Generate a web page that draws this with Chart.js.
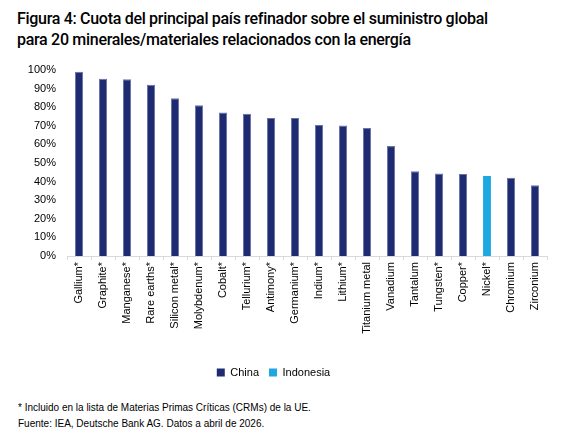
<!DOCTYPE html>
<html>
<head>
<meta charset="utf-8">
<script src="https://cdn.jsdelivr.net/npm/chart.js@4.4.1/dist/chart.umd.min.js"></script>
<style>
  body { margin: 0; background: #fff; width: 569px; height: 440px; overflow: hidden; font-family: "Noto Sans", sans-serif; }
  #title { position: absolute; left: 17px; top: 8px; font-family: Roboto, "Noto Sans", sans-serif; font-size: 16px; line-height: 21px; color: #000; font-weight: 500; white-space: nowrap; letter-spacing: -0.3px; }
  #wrap { position: absolute; left: 0; top: 0; width: 569px; height: 392px; }
  .note { position: absolute; left: 18px; font-size: 10px; color: #000; font-family: "Liberation Sans", sans-serif; }
</style>
</head>
<body>
<div id="title">Figura 4: Cuota del principal país refinador sobre el suministro global<br>para 20 minerales/materiales relacionados con la energía</div>
<div id="wrap"><canvas id="chart"></canvas></div>
<div class="note" style="top:402px">* Incluido en la lista de Materias Primas Críticas (CRMs) de la UE.</div>
<div class="note" style="top:418px">Fuente: IEA, Deutsche Bank AG. Datos a abril de 2026.</div>
<script>
// Data
var minerals = ['Gallium*', 'Graphite*', 'Manganese*', 'Rare earths*', 'Silicon metal*', 'Molybdenum*',
  'Cobalt*', 'Tellurium*', 'Antimony*', 'Germanium*', 'Indium*', 'Lithium*', 'Titanium metal',
  'Vanadium', 'Tantalum', 'Tungsten*', 'Copper*', 'Nickel*', 'Chromium', 'Zirconium'];
var share = [99, 95.3, 95, 92.1, 84.8, 81, 77.2, 76.5, 74.2, 74.2, 70.4, 70.2, 68.8, 59.1, 45.5, 44.4, 44.1, 43, 42.1, 38];
var country = ['China', 'China', 'China', 'China', 'China', 'China', 'China', 'China', 'China', 'China',
  'China', 'China', 'China', 'China', 'China', 'China', 'China', 'Indonesia', 'China', 'China'];
var yTicks = [0, 10, 20, 30, 40, 50, 60, 70, 80, 90, 100];

var colors = { 'China': '#1f2b70', 'Indonesia': '#1ea8e0' };
var borders = { 'China': '#6a73a6', 'Indonesia': '#1ea8e0' };

var ctx = document.getElementById('chart');
var chart = new Chart(ctx, {
  type: 'bar',
  data: {
    labels: minerals,
    datasets: [{
      label: 'Share',
      data: share,
      backgroundColor: country.map(function (c) { return colors[c]; }),
      borderColor: country.map(function (c) { return borders[c]; }),
      borderWidth: 1,
      categoryPercentage: 1,
      barPercentage: 0.34
    }]
  },
  options: {
    responsive: true,
    maintainAspectRatio: false,
    animation: false,
    layout: { padding: { top: 70, right: 22, left: 0, bottom: 4 } },
    plugins: {
      tooltip: { enabled: false },
      legend: {
        position: 'bottom',
        labels: {
          boxWidth: 8, boxHeight: 8, padding: 10, color: '#000',
          font: { family: 'Liberation Sans', size: 11 },
          generateLabels: function () {
            return ['China', 'Indonesia'].map(function (c) {
              return { text: c, fillStyle: colors[c], strokeStyle: colors[c], lineWidth: 0, fontColor: '#000' };
            });
          }
        }
      }
    },
    scales: {
      y: {
        min: 0, max: 100,
        afterBuildTicks: function (axis) { axis.ticks = yTicks.map(function (v) { return { value: v }; }); },
        afterFit: function (axis) { axis.width = 67; },
        grid: { display: false, drawTicks: false },
        border: { display: false },
        ticks: {
          padding: 11, color: '#000',
          font: { family: 'Liberation Sans', size: 11 },
          callback: function (v) { return v + '%'; }
        }
      },
      x: {
        grid: { display: false, drawTicks: false },
        border: { color: '#d9d9d9', width: 1 },
        afterFit: function (axis) { axis.height = 101; },
        ticks: {
          minRotation: 90, maxRotation: 90, padding: 6, color: '#000',
          font: { family: 'Liberation Sans', size: 11 }
        }
      }
    }
  },
  plugins: [{
    id: 'catTicks',
    afterDraw: function (c) {
      var x = c.scales.x, g = c.ctx, y0 = c.chartArea.bottom;
      g.save();
      g.strokeStyle = '#d9d9d9';
      g.lineWidth = 1;
      for (var i = 0; i <= minerals.length; i++) {
        var px = Math.round(x.getPixelForValue(i - 0.5)) + 0.5;
        g.beginPath();
        g.moveTo(px, y0);
        g.lineTo(px, y0 + 4);
        g.stroke();
      }
      g.restore();
    }
  }]
});
</script>
</body>
</html>
